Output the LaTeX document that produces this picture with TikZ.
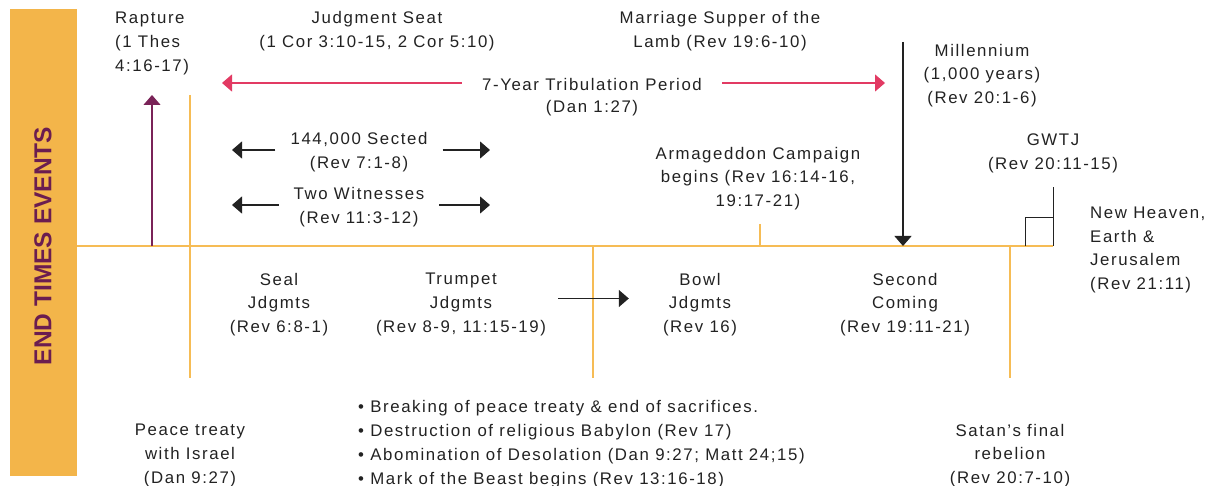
\documentclass[tikz,border=0pt]{standalone}
\usepackage{fontspec}
\setmainfont{Liberation Sans}[LetterSpace=9.5]
\newfontfamily\titlefont{Liberation Sans}[BoldFont={Liberation Sans Bold}]
\usetikzlibrary{arrows.meta}

\definecolor{barorange}{HTML}{F3B54A}
\definecolor{lineorange}{HTML}{F6BC55}
\definecolor{titlepurple}{HTML}{6B1D50}
\definecolor{rapturepurple}{HTML}{7A2358}
\definecolor{tribpink}{HTML}{E23A63}
\definecolor{inkgray}{HTML}{222222}

\tikzset{
  event/.style={font=\fontsize{16.8}{23.8}\selectfont, text=inkgray, inner sep=0pt, align=center},
  era/.style={draw=lineorange, line width=1.3pt},
  tipline/.style={line width=1.2pt, -{Triangle[length=10pt,width=17pt]}},
}

\begin{document}
\begin{tikzpicture}[x=1pt,y=-1pt]
\useasboundingbox (0,0) rectangle (1209,486);

% side bar
\fill[barorange] (10,9) rectangle (77,476);
\node[rotate=90, text=titlepurple, font=\titlefont\bfseries\fontsize{24.5}{28}\selectfont] (title) at (43,246) {END TIMES EVENTS};

% timeline and dividers
\draw[era] (77,246) -- (1053,246);
\draw[era] (190,95) -- (190,378);
\draw[era] (593,246) -- (593,378);
\draw[era] (760,224) -- (760,246);
\draw[era] (1010,246) -- (1010,378);

% events above the line
\node[event, align=left, anchor=west] (rapture) at (115,43.5) {Rapture\\(1 Thes\\4:16-17)};
\node[event] (judgment) at (377,31.5) {Judgment Seat\\(1 Cor 3:10-15, 2 Cor 5:10)};
\node[event] (supper) at (720,31.5) {Marriage Supper of the\\Lamb (Rev 19:6-10)};
\node[event, inner xsep=20pt] (trib) at (592,84.5) {7-Year Tribulation Period};
\node[event] (dan) at (592,108.5) {(Dan 1:27)};
\node[event, inner xsep=15pt] (sected) at (359,152) {144,000 Sected\\(Rev 7:1-8)};
\node[event, inner xsep=15pt] (witness) at (359,207.5) {Two Witnesses\\(Rev 11:3-12)};
\node[event] (armageddon) at (758,178.5) {Armageddon Campaign\\begins (Rev 16:14-16,\\19:17-21)};
\node[event] (millennium) at (982,75.5) {Millennium\\(1,000 years)\\(Rev 20:1-6)};
\node[event] (gwtj) at (1053,153) {GWTJ\\(Rev 20:11-15)};
\node[event, align=left, anchor=west] (newheaven) at (1090,250) {New Heaven,\\Earth \&\\Jerusalem\\(Rev 21:11)};

% events below the line
\node[event] (seal) at (279,304.5) {Seal\\Jdgmts\\(Rev 6:8-1)};
\node[event, inner xsep=12pt] (trumpet) at (461,304.5) {Trumpet\\Jdgmts\\(Rev 8-9, 11:15-19)};
\node[event, inner xsep=34pt] (bowl) at (700,304.5) {Bowl\\Jdgmts\\(Rev 16)};
\node[event] (second) at (905,304.5) {Second\\Coming\\(Rev 19:11-21)};
\node[event] (peace) at (190,455.5) {Peace treaty\\with Israel\\(Dan 9:27)};
\node[event, align=left, anchor=west] (midweek) at (358,444) {\textbullet\ Breaking of peace treaty \& end of sacrifices.\\\textbullet\ Destruction of religious Babylon (Rev 17)\\\textbullet\ Abomination of Desolation (Dan 9:27; Matt 24;15)\\\textbullet\ Mark of the Beast begins (Rev 13:16-18)};
\node[event] (satan) at (1010,455.5) {Satan's final\\rebelion\\(Rev 20:7-10)};

% arrow ends
\coordinate (raptureBase) at (152,246);
\coordinate (raptureTop) at (152,95);
\coordinate (tribL) at (222,83);
\coordinate (tribR) at (885,83);
\coordinate (sectL) at (232,150);
\coordinate (sectR) at (490,150);
\coordinate (witL) at (232,205);
\coordinate (witR) at (490,205);
\coordinate (millTop) at (903,42);
\coordinate (millBase) at (903,246);
\coordinate (gwtjFoot) at (1053,246);

% arrows
\draw[tipline, rapturepurple] (raptureBase) -- (raptureTop);
\draw[tipline, tribpink] (trib.west |- tribL) -- (tribL);
\draw[tipline, tribpink] (trib.east |- tribR) -- (tribR);
\draw[tipline, inkgray] (sected.west |- sectL) -- (sectL);
\draw[tipline, inkgray] (sected.east |- sectR) -- (sectR);
\draw[tipline, inkgray] (witness.west |- witL) -- (witL);
\draw[tipline, inkgray] (witness.east |- witR) -- (witR);
\draw[tipline, inkgray] ([yshift=6pt]trumpet.east) -- ([yshift=6pt]bowl.west);
\draw[tipline, inkgray] (millTop) -- (millBase);

% judgment step
\draw[inkgray, line width=1pt] (gwtjFoot) -- (1053,187);
\draw[inkgray, line width=1pt] (1025,246) |- (1053,218);
\end{tikzpicture}
\end{document}
